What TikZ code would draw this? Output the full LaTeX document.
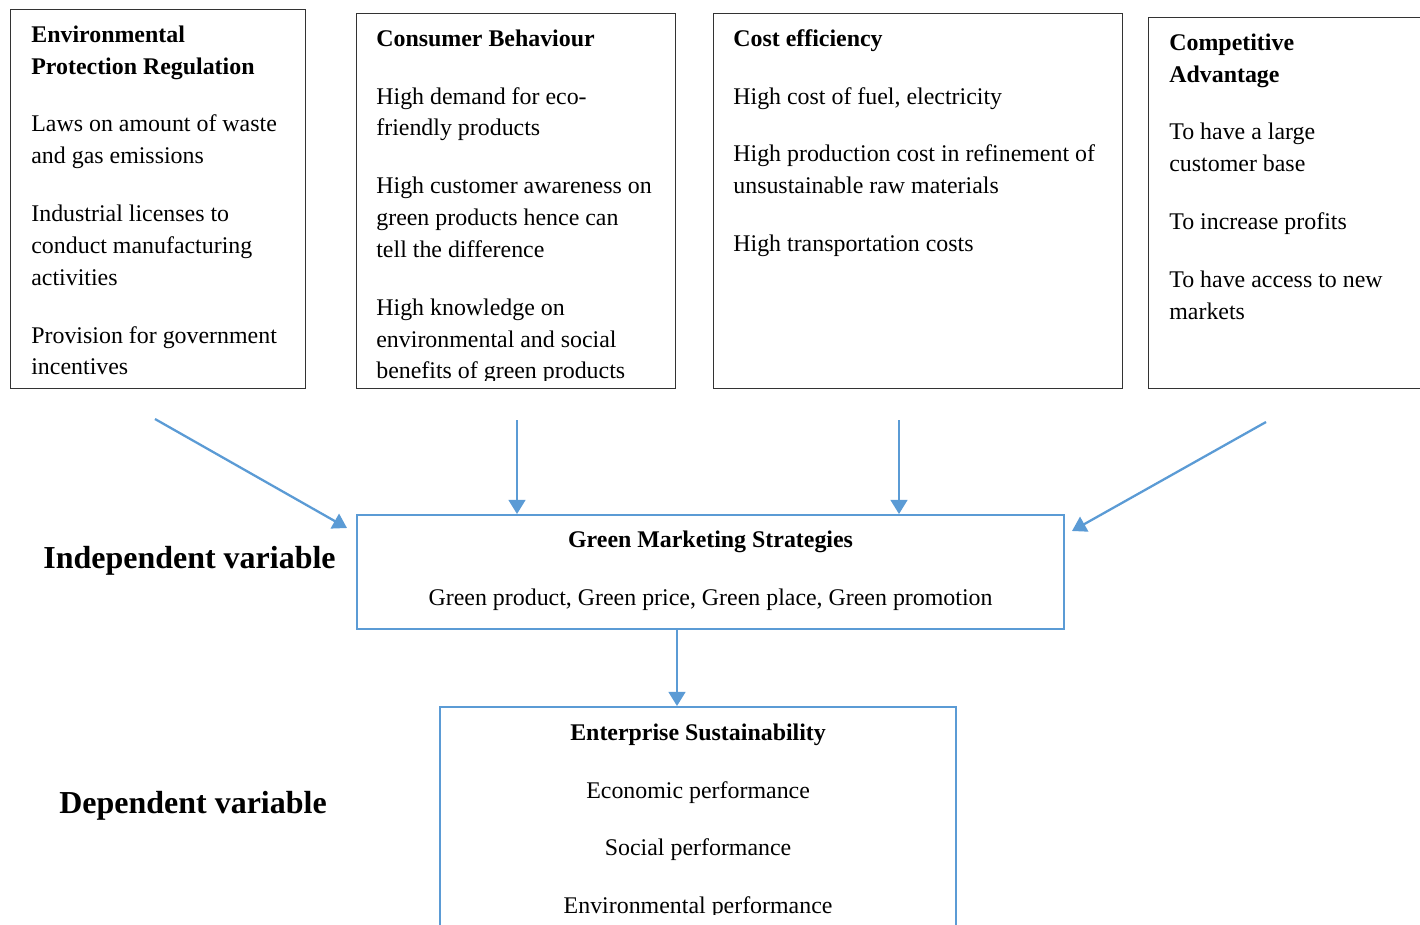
\documentclass[tikz,border=0pt]{standalone}
\usepackage{fontspec}
\setmainfont{Liberation Serif}
\usetikzlibrary{arrows.meta,calc}
\definecolor{lineblue}{HTML}{5B9BD5}
\begin{document}
\begin{tikzpicture}[x=0.02cm,y=-0.02cm,
 box/.style={draw=black!80,line width=0.7pt,anchor=north west,inner sep=0pt},
 bluebox/.style={draw=lineblue,line width=1.3pt,anchor=north west,inner sep=0pt},
 txt/.style={anchor=north west,inner sep=0pt,align=left,font=\fontsize{13.6}{18.14}\selectfont},
 ctxt/.style={anchor=north,inner sep=0pt,align=center,font=\fontsize{13.6}{18.14}\selectfont},
 varlabel/.style={anchor=base west,inner sep=0pt,font=\fontsize{18.2}{22}\selectfont\bfseries},
 arr/.style={draw=lineblue,line width=1.3pt,-{Triangle[length=8pt,width=9.5pt]}}]
\useasboundingbox (0,0) rectangle (1420,924);
\node[box,minimum width=5.90cm,minimum height=7.58cm] (envreg) at (10,9) {};
\node[box,minimum width=6.38cm,minimum height=7.50cm] (consbeh) at (356,13) {};
\node[box,minimum width=8.18cm,minimum height=7.50cm] (costeff) at (713,13) {};
\node[box,minimum width=5.90cm,minimum height=7.42cm] (compadv) at (1148,17) {};
\node[bluebox,minimum width=14.14cm,minimum height=2.28cm] (gms) at (356,514) {};
\node[bluebox,minimum width=10.32cm,minimum height=4.80cm] (entsus) at (439,706) {};
\node[txt] (envregtxt) at ($(envreg.north west)+(21,10.6)$) {\strut\textbf{Environmental}\\\textbf{Protection Regulation}\\[14.74pt]
 Laws on amount of waste\\and gas emissions\\[14.74pt]
 Industrial licenses to\\conduct manufacturing\\activities\\[14.74pt]
 Provision for government\\incentives};
\begin{scope}
\clip (consbeh.north west) rectangle ($(consbeh.south east)+(0,-8.5)$);
\node[txt] (consbehtxt) at ($(consbeh.north west)+(20,10.6)$) {\strut\textbf{Consumer Behaviour}\\[14.74pt]
 High demand for eco-\\friendly products\\[14.74pt]
 High customer awareness on\\green products hence can\\tell the difference\\[14.74pt]
 High knowledge on\\environmental and social\\benefits of green products};
\end{scope}
\node[txt] (costefftxt) at ($(costeff.north west)+(20,10.6)$) {\strut\textbf{Cost efficiency}\\[14.74pt]
 High cost of fuel, electricity\\[14.74pt]
 High production cost in refinement of\\unsustainable raw materials\\[14.74pt]
 High transportation costs};
\node[txt] (compadvtxt) at ($(compadv.north west)+(21,10.6)$) {\strut\textbf{Competitive}\\\textbf{Advantage}\\[14.74pt]
 To have a large\\customer base\\[14.74pt]
 To increase profits\\[14.74pt]
 To have access to new\\markets};
\node[ctxt] (gmstxt) at ($(gms.north)+(0,10.6)$) {\strut\textbf{Green Marketing Strategies}\\[14.74pt]
 Green product, Green price, Green place, Green promotion};
\begin{scope}
\clip (entsus.north west) rectangle ($(entsus.north east)+(0,208)$);
\node[ctxt] (entsustxt) at ($(entsus.north)+(0,11.6)$) {\strut\textbf{Enterprise Sustainability}\\[14.74pt]
 Economic performance\\[14.74pt]
 Social performance\\[14.74pt]
 Environmental performance};
\end{scope}
\node[varlabel] (indep) at (43,568) {Independent variable};
\node[varlabel] (dep) at (59,813) {Dependent variable};
\coordinate (a1) at (155,419);
\coordinate (e1) at (347,528);
\coordinate (a2) at (517,420);
\coordinate (a3) at (899,420);
\coordinate (a4) at (1266,422);
\coordinate (e4) at (1072,531);
\coordinate (a5) at (677,630);
\draw[arr] (a1) -- (e1);
\draw[arr] (a2) -- (a2 |- gms.north);
\draw[arr] (a3) -- (a3 |- gms.north);
\draw[arr] (a4) -- (e4);
\draw[arr] (a5) -- (a5 |- entsus.north);
\end{tikzpicture}
\end{document}
